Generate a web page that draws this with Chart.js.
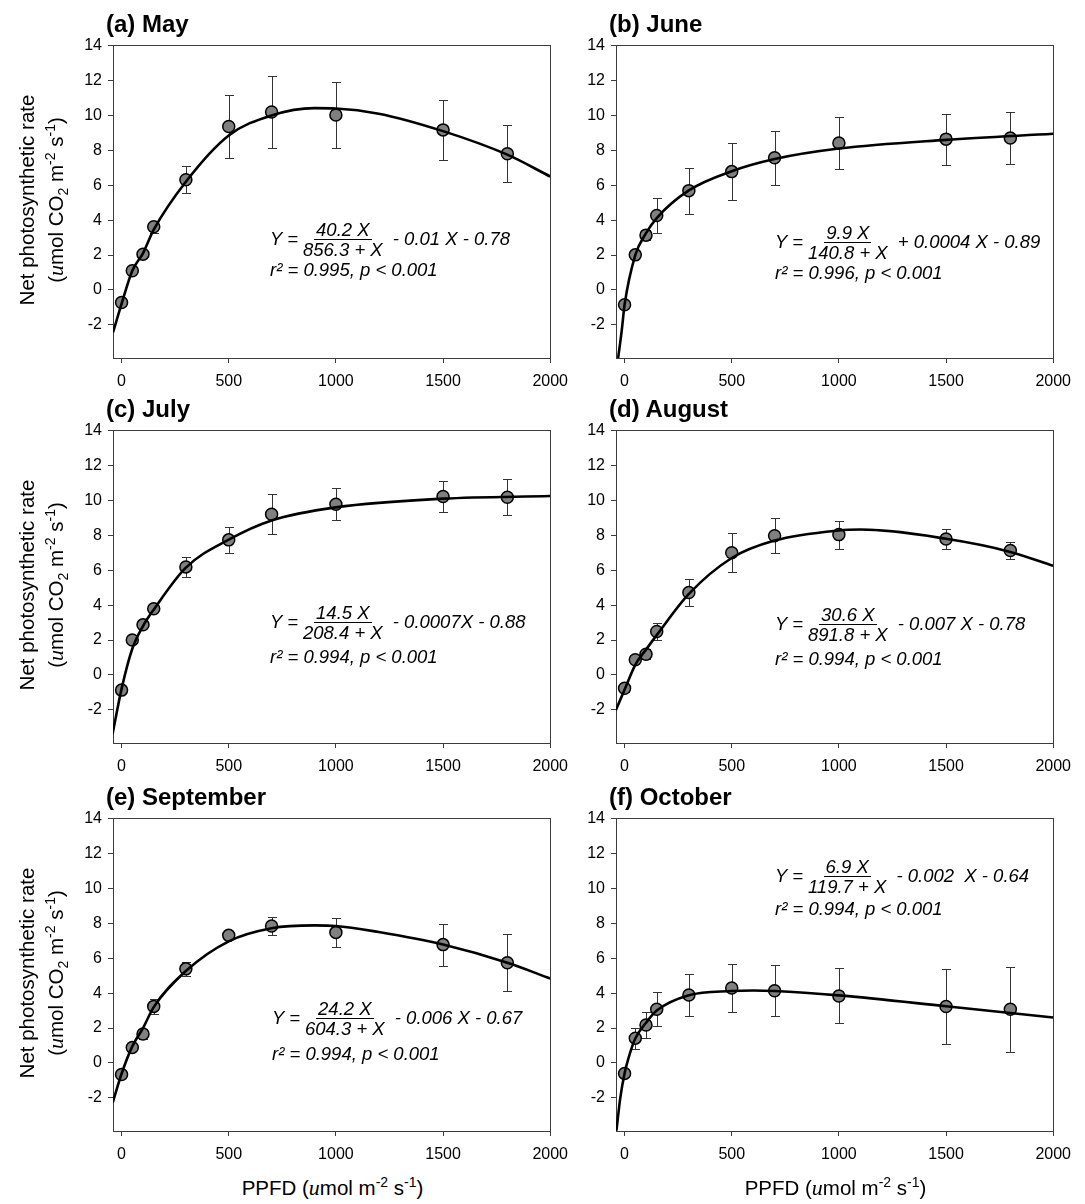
<!DOCTYPE html>
<html><head><meta charset="utf-8">
<script src="https://cdn.jsdelivr.net/npm/chart.js@4.4.0/dist/chart.umd.min.js"></script>
<style>
body{margin:0;background:#fff;}
#wrap{position:relative;width:1085px;height:1204px;overflow:hidden;font-family:'Liberation Sans',Arial,sans-serif;color:#000;background:#fff;}
canvas{position:absolute;}
.ptitle{position:absolute;font-weight:bold;font-size:24px;line-height:24px;white-space:nowrap;z-index:2;}
.ytitle{position:absolute;width:360px;height:58px;line-height:29px;font-size:20.5px;text-align:center;transform:rotate(-90deg);white-space:nowrap;z-index:2;}
.xtitle{position:absolute;width:300px;text-align:center;font-size:20.5px;line-height:22px;white-space:nowrap;z-index:2;}
.eq{position:absolute;font-style:italic;font-size:18.5px;white-space:nowrap;display:flex;align-items:center;z-index:2;}
.frac{display:inline-flex;flex-direction:column;align-items:center;margin:0 3px;}
.frac span{line-height:19px;padding:0 2px;}
.frac .num{border-bottom:1px solid #000;}
.rl{position:absolute;font-style:italic;font-size:18.5px;line-height:19px;white-space:nowrap;z-index:2;}
sub,sup{font-size:14px;line-height:0;}
.u{font-family:'Liberation Serif',serif;font-style:italic;font-size:22px;}
</style></head>
<body><div id="wrap"></div>
<script>
// ---------- data ----------
const xValues = [0, 50, 100, 150, 300, 500, 700, 1000, 1500, 1800];
const xTickValues = [0, 500, 1000, 1500, 2000];
const yTickValues = [-2, 0, 2, 4, 6, 8, 10, 12, 14];

const mayY   = [-0.72, 1.10, 2.05, 3.62, 6.31, 9.36, 10.20, 10.02, 9.17, 7.80];
const mayErr = [0.2, 0.2, 0.2, 0.35, 0.77, 1.80, 2.06, 1.87, 1.71, 1.64];
const mayCurveX = [-40, 0, 50, 100, 150, 300, 500, 700, 900, 1000, 1200, 1500, 1800, 2000];
const mayCurveY = [-2.43, -0.80, 1.10, 2.10, 3.45, 6.20, 8.85, 10.00, 10.42, 10.40, 10.10, 9.10, 7.75, 6.50];

const juneY   = [-0.85, 2.01, 3.14, 4.27, 5.69, 6.78, 7.57, 8.42, 8.64, 8.70];
const juneErr = [0.2, 0.2, 0.3, 1.02, 1.32, 1.64, 1.56, 1.49, 1.46, 1.50];
const juneCurveX = [-30, -13, 0, 50, 100, 150, 300, 500, 700, 1000, 1500, 2000];
const juneCurveY = [-3.90, -2.30, -0.85, 2.00, 3.25, 4.12, 5.70, 6.80, 7.50, 8.10, 8.60, 8.95];

const julyY   = [-0.87, 2.00, 2.87, 3.79, 6.19, 7.74, 9.21, 9.78, 10.22, 10.18];
const julyErr = [0.15, 0.15, 0.2, 0.2, 0.55, 0.73, 1.15, 0.93, 0.89, 1.03];
const julyCurveX = [-42, 0, 50, 100, 150, 300, 500, 700, 1000, 1500, 2000];
const julyCurveY = [-3.38, -0.80, 1.50, 2.80, 3.74, 6.15, 7.75, 8.85, 9.60, 10.10, 10.25];

const augY   = [-0.76, 0.87, 1.19, 2.49, 4.72, 7.00, 7.98, 8.04, 7.79, 7.13];
const augErr = [0.2, 0.2, 0.3, 0.51, 0.78, 1.11, 1.02, 0.80, 0.55, 0.50];
const augCurveX = [-41, 0, 50, 100, 150, 300, 500, 700, 1000, 1100, 1500, 1800, 2000];
const augCurveY = [-2.02, -0.85, 0.58, 1.45, 2.28, 4.64, 6.70, 7.70, 8.28, 8.33, 7.80, 7.05, 6.25];

const sepY   = [-0.66, 0.89, 1.66, 3.24, 5.39, 7.31, 7.85, 7.48, 6.78, 5.74];
const sepErr = [0.15, 0.15, 0.29, 0.42, 0.40, 0.10, 0.50, 0.82, 1.20, 1.63];
const sepCurveX = [-41, 0, 50, 100, 150, 300, 500, 700, 900, 1000, 1200, 1500, 1800, 2000];
const sepCurveY = [-2.26, -0.62, 0.95, 2.00, 3.20, 5.27, 6.97, 7.72, 7.88, 7.85, 7.50, 6.78, 5.74, 4.84];

const octY   = [-0.60, 1.42, 2.17, 3.08, 3.89, 4.29, 4.14, 3.84, 3.23, 3.08];
const octErr = [0.15, 0.60, 0.75, 0.96, 1.19, 1.36, 1.47, 1.58, 2.13, 2.44];
const octCurveX = [-38, -20, 0, 25, 50, 100, 150, 300, 500, 600, 700, 1000, 1500, 2000];
const octCurveY = [-3.88, -2.00, -0.60, 0.55, 1.40, 2.30, 3.00, 3.88, 4.12, 4.15, 4.12, 3.87, 3.25, 2.60];

const panelTitles = ['(a) May', '(b) June', '(c) July', '(d) August', '(e) September', '(f) October'];
const eqNum  = ['40.2 X', '9.9 X', '14.5 X', '30.6 X', '24.2 X', '6.9 X'];
const eqDen  = ['856.3 + X', '140.8 + X', '208.4 + X', '891.8 + X', '604.3 + X', '119.7 + X'];
const eqRest = ['- 0.01 X - 0.78', '+ 0.0004 X - 0.89', '- 0.0007X - 0.88', '- 0.007 X - 0.78', '- 0.006 X - 0.67', '- 0.002&nbsp; X - 0.64'];
const eqR    = ['r² = 0.995, p &lt; 0.001', 'r² = 0.996, p &lt; 0.001', 'r² = 0.994, p &lt; 0.001', 'r² = 0.994, p &lt; 0.001', 'r² = 0.994, p &lt; 0.001', 'r² = 0.994, p &lt; 0.001'];

// ---------- layout ----------
const colLeft = [113, 616], plotW = 439, rowTop = [42, 427, 815], plotH = 316;
const Y_AXIS_W = 60, X_AXIS_H = 36, PAD_TOP = 12, PAD_RIGHT = 25;
const eqPos = [ {x:270, num:229, r:269}, {x:775, num:232, r:272}, {x:270, num:612, r:656},
                {x:775, num:614, r:658}, {x:272, num:1008, r:1053}, {x:775, num:866, r:908} ];

const series = [
  [mayY, mayErr, mayCurveX, mayCurveY],
  [juneY, juneErr, juneCurveX, juneCurveY],
  [julyY, julyErr, julyCurveX, julyCurveY],
  [augY, augErr, augCurveX, augCurveY],
  [sepY, sepErr, sepCurveX, sepCurveY],
  [octY, octErr, octCurveX, octCurveY]
];

Chart.defaults.font.family = "'Liberation Sans', Arial, sans-serif";
Chart.defaults.color = '#000';
const FRAME = '#3c3c3c';

const errorBars = {
  id: 'errorBars',
  beforeDatasetsDraw(chart) {
    const {ctx, scales: {x, y}} = chart;
    chart.data.datasets.forEach(ds => {
      if (!ds.errors) return;
      ctx.save();
      ctx.strokeStyle = '#333';
      ctx.lineWidth = 1;
      ds.data.forEach((p, i) => {
        const e = ds.errors[i];
        const px = Math.round(x.getPixelForValue(p.x)) + 0.5;
        const t = Math.round(y.getPixelForValue(p.y + e)) + 0.5;
        const b = Math.round(y.getPixelForValue(p.y - e)) + 0.5;
        ctx.beginPath();
        ctx.moveTo(px, t); ctx.lineTo(px, b);
        ctx.moveTo(px - 4.5, t); ctx.lineTo(px + 4.5, t);
        ctx.moveTo(px - 4.5, b); ctx.lineTo(px + 4.5, b);
        ctx.stroke();
      });
      ctx.restore();
    });
  }
};

const wrap = document.getElementById('wrap');

series.forEach((s, k) => {
  const col = k % 2, row = Math.floor(k / 2);
  const L = colLeft[col] - Y_AXIS_W, T = rowTop[row] - PAD_TOP;
  const W = Y_AXIS_W + plotW + PAD_RIGHT, H = PAD_TOP + plotH + X_AXIS_H;
  const cv = document.createElement('canvas');
  cv.width = W; cv.height = H;
  cv.style.left = L + 'px'; cv.style.top = T + 'px';
  cv.style.width = W + 'px'; cv.style.height = H + 'px';
  wrap.appendChild(cv);

  const [ys, errs, cx, cy] = s;
  new Chart(cv, {
    type: 'scatter',
    data: {
      datasets: [
        { type: 'line', data: cx.map((x, i) => ({x, y: cy[i]})), borderColor: '#000', borderWidth: 2.6,
          pointRadius: 0, cubicInterpolationMode: 'monotone', fill: false, order: 0 },
        { type: 'scatter', data: xValues.map((x, i) => ({x, y: ys[i]})), errors: errs,
          pointRadius: 6, pointBackgroundColor: '#808080', pointBorderColor: '#000', pointBorderWidth: 1.5, order: 1 }
      ]
    },
    options: {
      responsive: false, animation: false, events: [],
      layout: { padding: { top: PAD_TOP, right: PAD_RIGHT, left: 0, bottom: 0 } },
      plugins: { legend: { display: false }, tooltip: { enabled: false }, title: { display: false } },
      scales: {
        x: {
          type: 'linear', position: 'bottom', min: -40, max: 2000,
          afterBuildTicks: sc => { sc.ticks = xTickValues.map(v => ({value: v})); },
          afterFit: sc => { sc.height = X_AXIS_H; },
          ticks: { autoSkip: false, maxRotation: 0, padding: 9, font: { size: 16 }, color: '#000',
                   callback: v => String(v) },
          grid: { display: true, drawOnChartArea: false, drawTicks: true, tickLength: 5, color: FRAME },
          border: { display: true, color: FRAME, width: 1 }
        },
        y: {
          type: 'linear', position: 'left', min: -3.9, max: 14,
          afterBuildTicks: sc => { sc.ticks = yTickValues.map(v => ({value: v})); },
          afterFit: sc => { sc.width = Y_AXIS_W; },
          ticks: { autoSkip: false, padding: 6, font: { size: 16 }, color: '#000',
                   callback: v => String(v) },
          grid: { display: true, drawOnChartArea: false, drawTicks: true, tickLength: 5, color: FRAME },
          border: { display: true, color: FRAME, width: 1 }
        },
        xTop: {
          type: 'linear', position: 'top', min: -40, max: 2000,
          afterFit: sc => { sc.height = 0; },
          ticks: { display: false }, grid: { display: false, drawTicks: false },
          border: { display: true, color: FRAME, width: 1 }
        },
        yRight: {
          type: 'linear', position: 'right', min: -3.9, max: 14,
          afterFit: sc => { sc.width = 0; },
          ticks: { display: false }, grid: { display: false, drawTicks: false },
          border: { display: true, color: FRAME, width: 1 }
        }
      }
    },
    plugins: [errorBars]
  });

  // panel title
  const t = document.createElement('div');
  t.className = 'ptitle';
  t.textContent = panelTitles[k];
  t.style.left = (colLeft[col] - 7) + 'px';
  t.style.top = (rowTop[row] - 30) + 'px';
  wrap.appendChild(t);

  // equation
  const p = eqPos[k];
  const eq = document.createElement('div');
  eq.className = 'eq';
  eq.style.left = p.x + 'px';
  eq.style.top = (p.num - 9.5) + 'px';
  eq.innerHTML = '<span>Y = </span><span class="frac"><span class="num">' + eqNum[k] +
    '</span><span class="den">' + eqDen[k] + '</span></span><span>&nbsp;' + eqRest[k] + '</span>';
  wrap.appendChild(eq);
  const rl = document.createElement('div');
  rl.className = 'rl';
  rl.style.left = p.x + 'px';
  rl.style.top = (p.r - 9.5) + 'px';
  rl.innerHTML = eqR[k];
  wrap.appendChild(rl);

  // y-axis title (left column)
  if (col === 0) {
    const yt = document.createElement('div');
    yt.className = 'ytitle';
    const cyc = rowTop[row] + plotH / 2;
    yt.style.left = (40.5 - 180) + 'px';
    yt.style.top = (cyc - 29) + 'px';
    yt.innerHTML = 'Net photosynthetic rate<br>(<span class="u">u</span>mol CO<sub>2</sub> m<sup>-2</sup> s<sup>-1</sup>)';
    wrap.appendChild(yt);
  }
  // x-axis title (bottom row)
  if (row === 2) {
    const xt = document.createElement('div');
    xt.className = 'xtitle';
    xt.style.left = (colLeft[col] + plotW / 2 - 150) + 'px';
    xt.style.top = '1177px';
    xt.innerHTML = 'PPFD (<span class="u">u</span>mol m<sup>-2</sup> s<sup>-1</sup>)';
    wrap.appendChild(xt);
  }
});
</script>
</body></html>
